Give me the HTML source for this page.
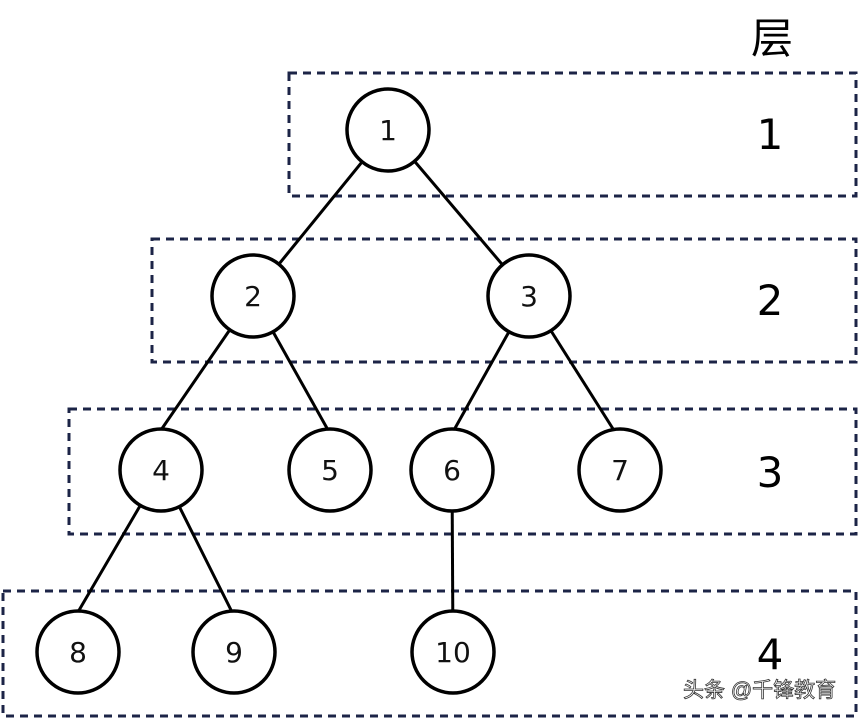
<!DOCTYPE html>
<html><head><meta charset="utf-8"><style>body{margin:0;background:#fff}</style></head><body>
<svg width="860" height="720" xmlns="http://www.w3.org/2000/svg" style="display:block">
<g fill="none" stroke="#1c2447" stroke-width="3" stroke-dasharray="8,6">
<rect x="289" y="73" width="567" height="123"/>
<rect x="152" y="239" width="704" height="123"/>
<rect x="69" y="409" width="787" height="125"/>
<rect x="3" y="591" width="853" height="125"/>
</g>
<g stroke="#000" stroke-width="3">
<line x1="388" y1="130" x2="253" y2="296"/><line x1="388" y1="130" x2="529" y2="296"/>
<line x1="253" y1="296" x2="161" y2="430"/><line x1="253" y1="296" x2="328" y2="430"/>
<line x1="529" y1="296" x2="454" y2="430"/><line x1="529" y1="296" x2="615" y2="432"/>
<line x1="161" y1="470" x2="78" y2="612"/><line x1="161" y1="470" x2="232" y2="612"/>
<line x1="452" y1="470" x2="453" y2="652"/>
</g>
<g fill="#fff" stroke="#000" stroke-width="3.5">
<circle cx="388" cy="130" r="41"/><circle cx="253" cy="296" r="41"/><circle cx="529" cy="296" r="41"/>
<circle cx="161" cy="470" r="41"/><circle cx="330" cy="470" r="41"/><circle cx="452" cy="470" r="41"/><circle cx="620" cy="470" r="41"/>
<circle cx="78" cy="652" r="41"/><circle cx="234" cy="652" r="41"/><circle cx="453" cy="652" r="41"/>
</g>
<g font-family="DejaVu Sans, Liberation Sans, sans-serif" font-size="28" text-anchor="middle" fill="#111">
<text x="388" y="140">1</text><text x="253" y="306">2</text><text x="529" y="306">3</text>
<text x="161" y="480">4</text><text x="330" y="480">5</text><text x="452" y="480">6</text><text x="620" y="480">7</text>
<text x="78" y="662">8</text><text x="234" y="662">9</text><text x="453" y="662">10</text>
</g>
<g font-family="DejaVu Sans, Liberation Sans, sans-serif" font-size="42" text-anchor="middle" fill="#000">
<text x="770" y="149">1</text><text x="770" y="315">2</text><text x="770" y="487">3</text><text x="770" y="669">4</text>
<text x="772" y="53" font-family="Liberation Sans, Noto Sans CJK SC, sans-serif">层</text>
</g>
<text x="683" y="697" font-family="Liberation Sans, Noto Sans CJK SC, sans-serif" font-size="21" fill="#fff" stroke="#333" stroke-width="0.8">头条 @千锋教育</text>
</svg>
</body></html>
